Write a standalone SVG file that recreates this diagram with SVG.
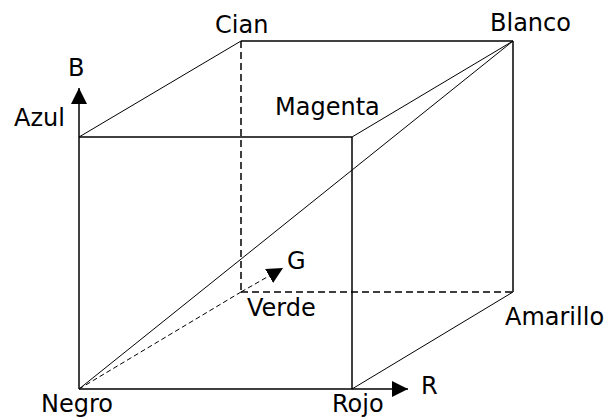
<svg xmlns="http://www.w3.org/2000/svg" width="606" height="418" viewBox="0 0 606 418">
<style>
.e{stroke:#000;stroke-width:1.5;fill:none}
.d{stroke:#000;stroke-width:1;fill:none}
.h{stroke:#000;stroke-width:1.5;fill:none;stroke-dasharray:7,4}
.hd{stroke:#000;stroke-width:1;fill:none;stroke-dasharray:5,3}
.a{stroke:#000;stroke-width:1.5;fill:none}
text{font-family:"DejaVu Sans",Verdana,sans-serif;font-size:24px;fill:#000}
</style>
<defs>
<marker id="arr" viewBox="0 0 16 16" refX="16" refY="8" markerWidth="16" markerHeight="16" markerUnits="userSpaceOnUse" orient="auto">
<path d="M0,0 L16,8 L0,16 z" fill="#000"/>
</marker>
</defs>
<rect width="606" height="418" fill="#fff"/>
<g id="connectors">
<line class="e" x1="79" y1="137" x2="352" y2="137"/>
<line class="e" x1="352" y1="137" x2="352" y2="389"/>
<line class="e" x1="79" y1="389" x2="352" y2="389"/>
<line class="e" x1="79" y1="137" x2="79" y2="389"/>
<line class="e" x1="241" y1="41" x2="513" y2="41"/>
<line class="e" x1="513" y1="41" x2="513" y2="292"/>
<line class="d" x1="79" y1="137" x2="241" y2="41"/>
<line class="d" x1="352" y1="137" x2="513" y2="41"/>
<line class="d" x1="352" y1="389" x2="513" y2="292"/>
<line class="d" x1="79" y1="389" x2="513" y2="41"/>
<line class="h" x1="241" y1="41" x2="241" y2="292"/>
<line class="h" x1="241" y1="292" x2="513" y2="292"/>
<line class="hd" x1="79" y1="389" x2="241" y2="292"/>
<line class="a" x1="79" y1="137" x2="79" y2="88" marker-end="url(#arr)"/>
<line class="a" x1="352" y1="389" x2="408" y2="389" marker-end="url(#arr)"/>
<line class="hd" x1="241" y1="292" x2="283" y2="268" marker-end="url(#arr)"/>
</g>
<g id="negro"><text x="41" y="412">Negro</text></g>
<g id="rojo"><text x="332" y="412">Rojo</text></g>
<g id="azul"><text x="14" y="126">Azul</text></g>
<g id="magenta"><text x="275" y="115">Magenta</text></g>
<g id="cian"><text x="215" y="33">Cian</text></g>
<g id="blanco"><text x="490" y="31">Blanco</text></g>
<g id="verde"><text x="247" y="316">Verde</text></g>
<g id="amarillo"><text x="505" y="325">Amarillo</text></g>
<g id="axis-b"><text x="68" y="76">B</text></g>
<g id="axis-g"><text x="287" y="269">G</text></g>
<g id="axis-r"><text x="421" y="394">R</text></g>
</svg>
